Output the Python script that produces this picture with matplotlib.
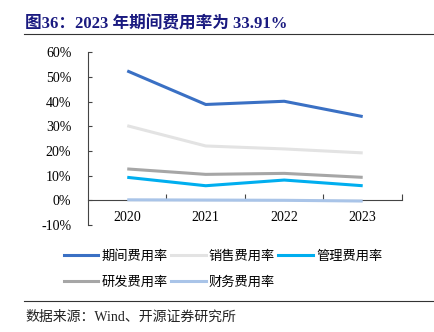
import numpy as np
import matplotlib.pyplot as plt
from matplotlib.lines import Line2D

plt.rcParams['font.family'] = ['Liberation Serif', 'Noto Sans CJK SC', 'DejaVu Sans']

years = ['2020', '2021', '2022', '2023']
period_rate = [52.4, 38.8, 40.1, 33.91]
sales_rate = [30.2, 22.0, 20.8, 19.2]
admin_rate = [9.3, 5.9, 8.2, 5.9]
rd_rate = [12.7, 10.5, 10.9, 9.3]
fin_rate = [0.2, 0.1, 0.0, -0.3]

series = [
    ('期间费用率', period_rate, '#3A70C4'),
    ('销售费用率', sales_rate, '#E3E3E3'),
    ('管理费用率', admin_rate, '#00AEEF'),
    ('研发费用率', rd_rate, '#A6A6A6'),
    ('财务费用率', fin_rate, '#A9C4E8'),
]

fig = plt.figure(figsize=(4.35, 3.32), dpi=100)
ax = fig.add_axes([0.2023, 0.3223, 0.7217, 0.5207])

x = np.arange(len(years))
for name, vals, col in series:
    ax.plot(x, vals, color=col, lw=2.2, solid_capstyle='butt', label=name, zorder=3)

ax.set_xlim(-0.5, 3.5)
ax.set_ylim(-10, 60)
ax.set_yticks(np.arange(-10, 61, 10))
ax.set_yticklabels(['%d%%' % v for v in range(-10, 61, 10)], fontsize=10)
ax.tick_params(axis='y', direction='in', length=3, width=0.8, color='#444444', pad=12)

ax.spines['top'].set_visible(False)
ax.spines['right'].set_visible(False)
ax.spines['left'].set_color('#444444')
ax.spines['left'].set_linewidth(0.8)
ax.spines['bottom'].set_position(('data', 0))
ax.spines['bottom'].set_color('#444444')
ax.spines['bottom'].set_linewidth(0.8)

ax.set_xticks([0.5, 1.5, 2.5, 3.5])
ax.set_xticklabels([])
ax.tick_params(axis='x', which='major', direction='in', length=4, width=0.8, color='#444444')
ax.set_xticks(x, minor=True)
ax.set_xticklabels(years, minor=True, fontsize=10)
ax.tick_params(axis='x', which='minor', length=0, pad=8)

# legend filled column-wise, so reorder to read row-wise like the reference
order = [0, 3, 1, 4, 2]
handles = [Line2D([0], [0], color=series[i][2], lw=2.2) for i in order]
labels = [series[i][0] for i in order]
fig.legend(handles, labels, loc='upper left', bbox_to_anchor=(0.12, 0.283),
           ncol=3, frameon=False, handlelength=2.6,
           handletextpad=0.25, columnspacing=0.25, labelspacing=1.0,
           prop={'family': ['Noto Sans CJK SC'], 'size': 9.5})

fig.text(0.058, 0.928, '图36：2023 年期间费用率为 33.91%', fontsize=12, fontweight='bold',
         color='#1A1A80', ha='left', va='center')
fig.add_artist(Line2D([0.055, 1.0], [0.897, 0.897], color='#333333', lw=0.8))
fig.add_artist(Line2D([0.055, 1.0], [0.094, 0.094], color='#333333', lw=0.8))
fig.text(0.058, 0.045, '数据来源：Wind、开源证券研究所', fontsize=10, color='#222222',
         ha='left', va='center')

fig.savefig('out.png', dpi=100)
